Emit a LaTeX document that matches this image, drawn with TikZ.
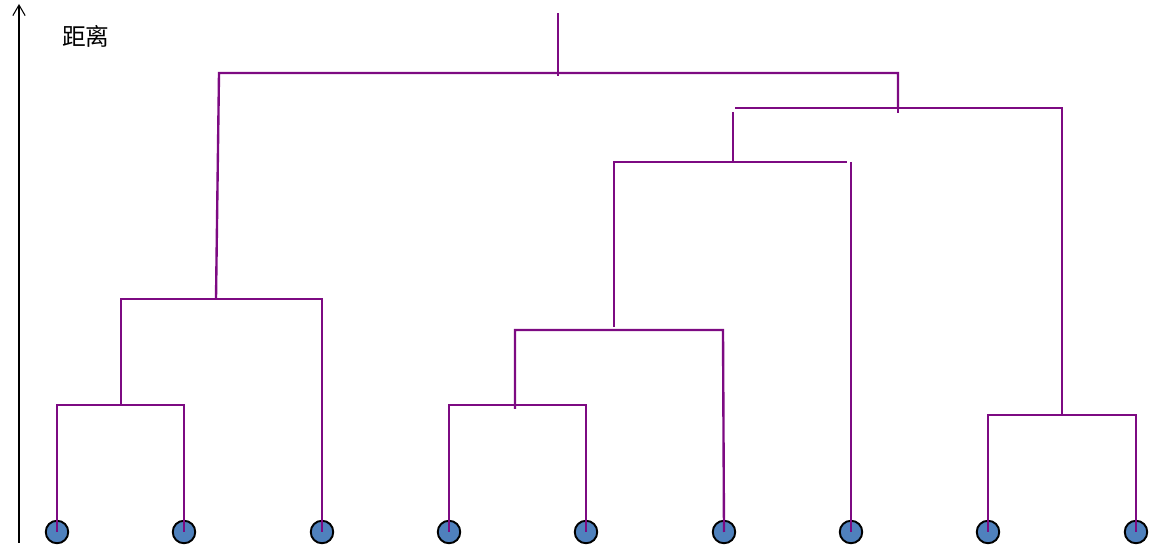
\documentclass[tikz,border=0pt]{standalone}
\usepackage{fontspec}
\usetikzlibrary{arrows.meta}
\newfontfamily\cjk{Noto Sans CJK SC}
\definecolor{linkpurple}{RGB}{125,10,130}
\definecolor{leafblue}{RGB}{79,129,189}
\begin{document}
\begin{tikzpicture}[x=0.02cm,y=-0.02cm,
  leaf/.style={circle,draw=black,line width=1.1pt,fill=leafblue,minimum size=0.45cm,inner sep=0pt},
  link/.style={draw=linkpurple,line width=1.35pt},
  axisline/.style={draw=black,line width=0.6pt,-{Straight Barb[length=6pt,width=7pt]}}]
\useasboundingbox (0,0) rectangle (1167,553);
% axis
\coordinate (axbot) at (19,543);
\coordinate (axtop) at (19,4);
\draw[axisline] (axbot) -- (axtop);
\node[font=\cjk\fontsize{13.5}{15}\selectfont] (axlabel) at (86,36) {距离};
% leaves
\node[leaf] (l1) at (57,532) {};
\node[leaf] (l2) at (184,532) {};
\node[leaf] (l3) at (322,532) {};
\node[leaf] (l4) at (449,532) {};
\node[leaf] (l5) at (586,532) {};
\node[leaf] (l6) at (724,532) {};
\node[leaf] (l7) at (851,532) {};
\node[leaf] (l8) at (988,532) {};
\node[leaf] (l9) at (1136,532) {};
% merge points
\coordinate (m12) at (121,405);
\coordinate (m123) at (216,299);
\coordinate (m45) at (515,405);
\coordinate (m456) at (614,330);
\coordinate (m4567) at (733,162);
\coordinate (m89) at (1062,415);
\coordinate (mright) at (898,108);
\coordinate (root) at (558,73);
% left cluster
\draw[link] (l1.center) -- (57,405) -- (184,405) -- (l2.center);
\draw[link] (m12) -- (121,299) -- (322,299) -- (l3.center);
\draw[link] (m123) -- (219,73) -- (898,73) -- (mright);
\draw[link] (root) ++(0,3) -- (558,13);
% middle cluster
\draw[link] (l4.center) -- (449,405) -- (586,405) -- (l5.center);
\draw[link] (515,409) -- (515,330) -- (723,330) -- (l6.center);
\draw[link] (614,327) -- (614,162) -- (847,162);
\draw[link] (851,162) -- (l7.center);
\draw[link] (733,112) -- (m4567);
% right cluster
\draw[link] (l8.center) -- (988,415) -- (1136,415) -- (l9.center);
\draw[link] (m89) -- (1062,108) -- (735,108);
\draw[link] (898,73) -- (898,113);
\end{tikzpicture}
\end{document}
